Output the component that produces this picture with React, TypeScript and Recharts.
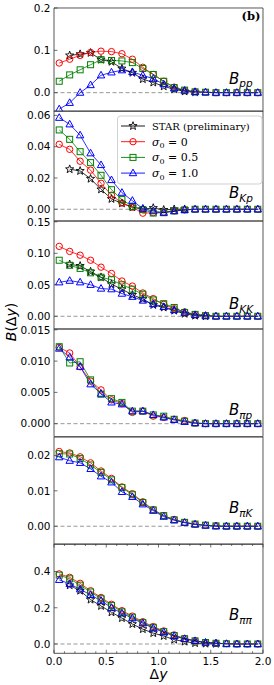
import React from "react";
import { LineChart, Line, XAxis, YAxis, ReferenceLine, ReferenceArea } from "recharts";

const dy = [0.05, 0.15, 0.25, 0.35, 0.45, 0.55, 0.65, 0.75, 0.85, 0.95, 1.05, 1.15, 1.25, 1.35, 1.45, 1.55, 1.65, 1.75, 1.85, 1.95];
const xTicks = [0, 0.1, 0.2, 0.3, 0.4, 0.5, 0.6, 0.7, 0.8, 0.9, 1.0, 1.1, 1.2, 1.3, 1.4, 1.5, 1.6, 1.7, 1.8, 1.9, 2.0];
const none = dy.map(() => null);

// B_pp
const ppS0 = [0.070, 0.079, 0.088, 0.095, 0.098, 0.097, 0.092, 0.079, 0.060, 0.043, 0.027, 0.013, 0.005, 0.002, 0.001, 0, 0, 0, 0, 0];
const ppS05 = [0.027, 0.042, 0.054, 0.066, 0.078, 0.076, 0.075, 0.071, 0.057, 0.043, 0.027, 0.012, 0.006, 0.002, 0.001, 0, 0, 0, 0, 0];
const ppS1 = [-0.039, -0.024, 0.0, 0.018, 0.041, 0.048, 0.053, 0.049, 0.041, 0.033, 0.020, 0.010, 0.005, 0.002, 0.001, 0, 0, 0, 0, 0];
const ppStar = [null, 0.088, 0.091, 0.094, 0.078, 0.073, 0.057, 0.047, 0.032, 0.024, 0.015, 0.008, 0.003, 0.001, null, null, null, null, null, null];

// B_Kp
const kpS0 = [0.0415, 0.0383, 0.0307, 0.025, 0.0166, 0.009, 0.004, 0.0013, -0.0025, -0.0022, -0.0018, -0.001, -0.0004, 0, 0, 0, 0, 0, 0, 0];
const kpS05 = [0.0507, 0.0447, 0.0368, 0.0298, 0.0217, 0.0125, 0.0062, 0.0018, -0.0002, -0.0024, -0.0022, -0.001, -0.0004, 0, 0, 0, 0, 0, 0, 0];
const kpS1 = [0.0585, 0.0543, 0.0473, 0.0358, 0.0283, 0.0187, 0.0106, 0.0055, 0.0004, -0.0012, -0.0022, -0.0012, -0.0004, 0, 0, 0, 0, 0, 0, 0];
const kpStar = [null, 0.0256, 0.0245, 0.0195, 0.0127, 0.0066, 0.0038, 0.0013, 0.0001, 0.0008, -0.0004, 0.0, 0.0, null, null, null, null, null, null, null];

// B_KK
const kkS0 = [0.111, 0.103, 0.097, 0.089, 0.078, 0.068, 0.056, 0.048, 0.037, 0.028, 0.019, 0.012, 0.007, 0.003, 0.001, 0, 0, 0, 0, 0];
const kkS05 = [0.089, 0.081, 0.076, 0.069, 0.062, 0.058, 0.05, 0.043, 0.035, 0.026, 0.02, 0.014, 0.006, 0.003, 0.001, 0, 0, 0, 0, 0];
const kkS1 = [0.054, 0.0565, 0.054, 0.05, 0.044, 0.043, 0.036, 0.031, 0.025, 0.0195, 0.015, 0.01, 0.0057, 0.002, 0.001, 0, 0, 0, 0, 0];
const kkStar = [null, 0.0825, 0.08, 0.071, 0.062, 0.051, 0.043, 0.034, 0.0275, 0.018, 0.014, 0.009, 0.004, 0.001, 0.0, null, null, null, null, null];

// B_pi p
const pipS0 = [0.0122, 0.0113, 0.0091, 0.0068, 0.0054, 0.0038, 0.0032, 0.0018, 0.002, 0.0012, 0.001, 0.0007, 0.0005, 0.0001, 0, 0, 0, 0, 0, 0];
const pipS05 = [0.0123, 0.0097, 0.0099, 0.007, 0.0047, 0.004, 0.0034, 0.002, 0.002, 0.0014, 0.0012, 0.0007, 0.0004, 0.0001, 0, 0, 0, 0, 0, 0];
const pipS1 = [0.012, 0.0106, 0.0091, 0.0063, 0.0048, 0.0034, 0.0031, 0.002, 0.002, 0.0014, 0.001, 0.0006, 0.0003, 0.0001, 0, 0, 0, 0, 0, 0];

// B_pi K
const pikS0 = [0.0211, 0.0207, 0.0196, 0.0179, 0.0156, 0.0135, 0.0111, 0.0092, 0.0069, 0.0047, 0.003, 0.0019, 0.0011, 0.0006, 0.0003, 0.0001, 0, 0, 0, 0];
const pikS05 = [0.0205, 0.0204, 0.0191, 0.0173, 0.0152, 0.0131, 0.0109, 0.0089, 0.0067, 0.0046, 0.003, 0.0018, 0.0011, 0.0006, 0.0003, 0.0001, 0, 0, 0, 0];
const pikS1 = [0.0195, 0.0185, 0.0179, 0.0162, 0.0141, 0.0124, 0.0097, 0.0083, 0.0062, 0.0044, 0.0027, 0.0017, 0.001, 0.0005, 0.0002, 0, 0, 0, 0, 0];

// B_pi pi
const pipiS0 = [0.387, 0.368, 0.335, 0.294, 0.257, 0.219, 0.184, 0.154, 0.123, 0.096, 0.072, 0.05, 0.031, 0.018, 0.009, 0.004, 0.002, 0, 0, 0];
const pipiS05 = [0.38, 0.36, 0.325, 0.287, 0.25, 0.213, 0.178, 0.148, 0.118, 0.092, 0.068, 0.047, 0.029, 0.017, 0.008, 0.004, 0.001, 0, 0, 0];
const pipiS1 = [0.354, 0.332, 0.302, 0.271, 0.239, 0.2, 0.17, 0.142, 0.114, 0.087, 0.065, 0.044, 0.028, 0.017, 0.008, 0.004, 0.001, 0, 0, 0];
const pipiStar = [null, 0.324, 0.294, 0.245, 0.21, 0.175, 0.143, 0.11, 0.082, 0.06, 0.044, 0.024, 0.013, 0.005, 0.002, 0.001, null, null, null, null];

const PLOT_L = 54;
const PLOT_R = 263;
const W = 274;
const FONT = "DejaVu Sans";

const panels = [
  { sub: "pp", top: 7.7, bottom: 111, domain: [-0.044, 0.2], ticks: [0, 0.1, 0.2], dec: 1, s0: ppS0, s05: ppS05, s1: ppS1, star: ppStar, labelY: 83.5 },
  { sub: "Kp", top: 111, bottom: 221, domain: [-0.0075, 0.0628], ticks: [0, 0.02, 0.04, 0.06], dec: 2, s0: kpS0, s05: kpS05, s1: kpS1, star: kpStar, labelY: 198 },
  { sub: "KK", top: 221, bottom: 329, domain: [-0.0202, 0.1513], ticks: [0, 0.05, 0.1, 0.15], dec: 2, s0: kkS0, s05: kkS05, s1: kkS1, star: kkStar, labelY: 309 },
  { sub: "\u03c0p", top: 329, bottom: 436.7, domain: [-0.00208, 0.01513], ticks: [0, 0.005, 0.01, 0.015], dec: 3, s0: pipS0, s05: pipS05, s1: pipS1, star: none, labelY: 415 },
  { sub: "\u03c0K", top: 436.7, bottom: 544, domain: [-0.0051, 0.0252], ticks: [0, 0.01, 0.02], dec: 2, s0: pikS0, s05: pikS05, s1: pikS1, star: none, labelY: 513 },
  { sub: "\u03c0\u03c0", top: 544, bottom: 653.3, domain: [-0.0514, 0.552], ticks: [0, 0.2, 0.4], dec: 1, s0: pipiS0, s05: pipiS05, s1: pipiS1, star: pipiStar, labelY: 620 },
];

const COLORS = { star: "#000000", s0: "#ff0000", s05: "#008000", s1: "#0000ff" };

function starPath(cx: number, cy: number, R: number, r: number) {
  let d = "";
  for (let i = 0; i < 10; i++) {
    const a = -Math.PI / 2 + (i * Math.PI) / 5;
    const rad = i % 2 === 0 ? R : r;
    d += (i === 0 ? "M" : "L") + (cx + rad * Math.cos(a)).toFixed(2) + "," + (cy + rad * Math.sin(a)).toFixed(2);
  }
  return d + "Z";
}

function Marker({ shape, cx, cy, color }: { shape: string; cx: number; cy: number; color: string }) {
  const sw = 1;
  if (shape === "circle") return <circle cx={cx} cy={cy} r={3.2} fill="none" stroke={color} strokeWidth={sw} />;
  if (shape === "square") return <rect x={cx - 3} y={cy - 3} width={6} height={6} fill="none" stroke={color} strokeWidth={sw} />;
  if (shape === "triangle")
    return <polygon points={`${cx},${cy - 4} ${cx - 3.7},${cy + 2.6} ${cx + 3.7},${cy + 2.6}`} fill="none" stroke={color} strokeWidth={sw} />;
  return <path d={starPath(cx, cy, 4.3, 1.8)} fill="none" stroke={color} strokeWidth={0.9} />;
}

const dotFor = (shape: string, color: string) => (props: any) => {
  const { cx, cy, index, value } = props;
  const key = `${shape}-${index}`;
  if (cx == null || cy == null || value == null || Number.isNaN(cy)) return <g key={key} />;
  return (
    <g key={key}>
      <Marker shape={shape} cx={cx} cy={cy} color={color} />
    </g>
  );
};

function Panel({ p, last }: { p: (typeof panels)[number]; last: boolean }) {
  const h = p.bottom - p.top;
  const padT = 10;
  const padB = last ? 31 : 10;
  const xh = last ? 25 : 0;
  const yAxisW = 44;
  const data = dy.map((x, i) => ({ x, star: p.star[i], s0: p.s0[i], s05: p.s05[i], s1: p.s1[i] }));
  const topY = padT;
  const botY = padT + h;

  const xTick = (props: any) => {
    const { x, payload } = props;
    const v = payload.value as number;
    const major = Math.abs(v * 2 - Math.round(v * 2)) < 1e-6;
    const len = major ? 3.5 : 2;
    return (
      <g>
        <line x1={x} x2={x} y1={botY} y2={botY - len} stroke="#333" strokeWidth={0.7} />
        <line x1={x} x2={x} y1={topY} y2={topY + len} stroke="#333" strokeWidth={0.7} />
        {last && major ? (
          <text x={x} y={botY + 11.5} textAnchor="middle" fontFamily={FONT} fontSize={10.5} fill="#000">
            {v.toFixed(1)}
          </text>
        ) : null}
      </g>
    );
  };

  const yTick = (props: any) => {
    const { y, payload } = props;
    const v = payload.value as number;
    return (
      <g>
        <line x1={PLOT_L} x2={PLOT_L + 3.5} y1={y} y2={y} stroke="#333" strokeWidth={0.7} />
        <text x={PLOT_L - 3.5} y={y + 3.8} textAnchor="end" fontFamily={FONT} fontSize={10.5} fill="#000">
          {v.toFixed(p.dec)}
        </text>
      </g>
    );
  };

  return (
    <div style={{ position: "absolute", left: 0, top: p.top - padT }}>
      <LineChart
        width={W}
        height={h + padT + padB}
        data={data}
        margin={{ top: padT, bottom: padB - xh, left: PLOT_L - yAxisW, right: W - PLOT_R }}
        style={{ overflow: "visible" }}
      >
        <XAxis type="number" dataKey="x" domain={[0, 2]} ticks={xTicks} interval={0} height={xh} axisLine={false} tickLine={false} tick={xTick} allowDataOverflow
          label={last ? {
            content: (lp: any) => {
              const vb = lp.viewBox || {};
              return (
                <text x={(vb.x ?? PLOT_L) + (vb.width ?? 209) / 2} y={botY + 25.5} textAnchor="middle" fontFamily={FONT} fontSize={14} fill="#000">
                  <tspan>{"\u0394"}</tspan>
                  <tspan fontStyle="italic">y</tspan>
                </text>
              );
            },
          } : undefined}
        />
        <YAxis type="number" domain={p.domain} ticks={p.ticks} interval={0} width={yAxisW} axisLine={false} tickLine={false} tick={yTick} allowDataOverflow />
        <ReferenceLine y={0} stroke="#8c8c8c" strokeDasharray="4 2.5" strokeWidth={0.9} />
        <Line dataKey="star" stroke={COLORS.star} strokeWidth={0.8} dot={dotFor("star", COLORS.star)} isAnimationActive={false} connectNulls={false} />
        <Line dataKey="s0" stroke={COLORS.s0} strokeWidth={0.8} dot={dotFor("circle", COLORS.s0)} isAnimationActive={false} />
        <Line dataKey="s05" stroke={COLORS.s05} strokeWidth={0.8} dot={dotFor("square", COLORS.s05)} isAnimationActive={false} />
        <Line dataKey="s1" stroke={COLORS.s1} strokeWidth={0.8} dot={dotFor("triangle", COLORS.s1)} isAnimationActive={false} />
        <ReferenceArea x1={0} x2={2} y1={p.domain[0]} y2={p.domain[1]} fill="none" stroke="#444" strokeWidth={0.9} ifOverflow="visible" />
      </LineChart>
    </div>
  );
}

const legendItems = [
  { shape: "star", color: COLORS.star, text: "STAR (preliminary)", sigma: "" },
  { shape: "circle", color: COLORS.s0, text: "", sigma: "0" },
  { shape: "square", color: COLORS.s05, text: "", sigma: "0.5" },
  { shape: "triangle", color: COLORS.s1, text: "", sigma: "1.0" },
];

function Overlay() {
  return (
    <svg width={W} height={685} style={{ position: "absolute", left: 0, top: 0, pointerEvents: "none" }}>
      <text x={251} y={20} textAnchor="middle" fontFamily="DejaVu Serif" fontWeight="bold" fontSize={11.5} fill="#000">
        (b)
      </text>
      {panels.map((p) => (
        <text key={p.sub} x={229} y={p.labelY} fontFamily={FONT} fontSize={15} fill="#000">
          <tspan fontStyle="italic">B</tspan>
          <tspan fontStyle="italic" fontSize={10.5} dy={3.5}>{p.sub}</tspan>
        </text>
      ))}
      <text transform="translate(16,322) rotate(-90)" textAnchor="middle" fontFamily={FONT} fontSize={14} fill="#000">
        <tspan fontStyle="italic">B</tspan>
        <tspan>{"(\u0394"}</tspan>
        <tspan fontStyle="italic">y</tspan>
        <tspan>)</tspan>
      </text>
      <rect x={117.5} y={116} width={144.5} height={68} rx={3} fill="#fff" fillOpacity={0.85} stroke="#cccccc" strokeWidth={0.9} />
      {legendItems.map((it, i) => {
        const y = 126 + i * 15.7;
        return (
          <g key={i}>
            <line x1={121} x2={145} y1={y} y2={y} stroke={it.color} strokeWidth={0.9} />
            <Marker shape={it.shape} cx={133} cy={y} color={it.color} />
            {it.text ? (
              <text x={152} y={y + 4} fontFamily="DejaVu Serif" fontSize={10} fill="#000">
                {it.text}
              </text>
            ) : (
              <text x={152} y={y + 4} fontFamily="DejaVu Serif" fontSize={11} fill="#000">
                <tspan fontStyle="italic">{"\u03c3"}</tspan>
                <tspan fontSize={8} dy={2.5}>0</tspan>
                <tspan dy={-2.5}>{" = " + it.sigma}</tspan>
              </text>
            )}
          </g>
        );
      })}
    </svg>
  );
}

export default function App() {
  return (
    <div style={{ position: "absolute", left: 0, top: 0, width: W, height: 685, background: "#fff" }}>
      {panels.map((p, i) => (
        <Panel key={p.sub} p={p} last={i === panels.length - 1} />
      ))}
      <Overlay />
    </div>
  );
}
